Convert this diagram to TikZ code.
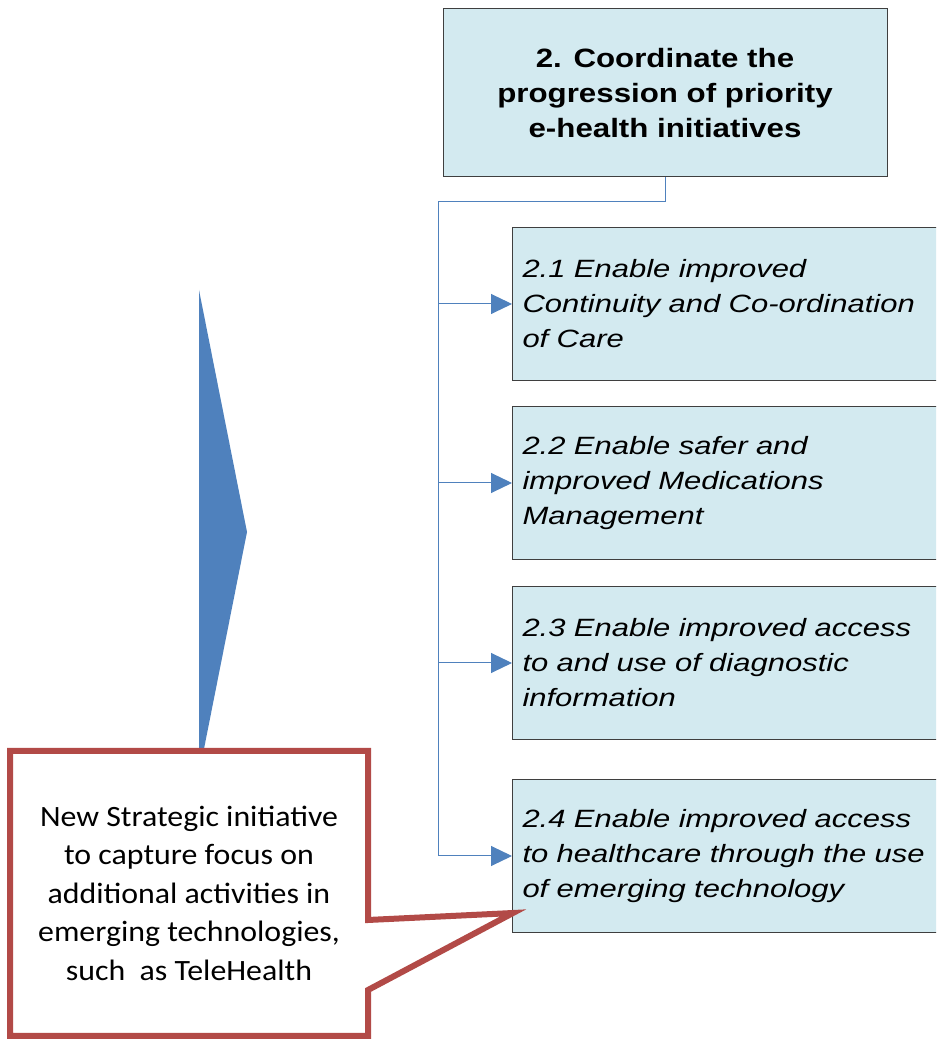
\documentclass[tikz,border=0pt]{standalone}
\usepackage{fontspec}
\setmainfont{Liberation Sans}
\newfontfamily\goalfont[FakeStretch=1.18]{Liberation Sans}
\newfontfamily\subfont[FakeStretch=1.24]{Liberation Sans}
\newfontfamily\notefont[FakeStretch=1.08]{Carlito}
\usetikzlibrary{arrows.meta,positioning,calc}
\definecolor{boxfill}{HTML}{D3EAF0}
\definecolor{boxline}{HTML}{3F3F3F}
\definecolor{linkblue}{HTML}{4F81BD}
\definecolor{notered}{HTML}{B24A47}

\begin{document}
\begin{tikzpicture}[x=1pt,y=1pt,
  goalbox/.style={draw=boxline,line width=1pt,fill=boxfill,minimum width=444pt,minimum height=168pt,align=center,
    font=\goalfont\fontsize{26.5}{35}\selectfont\bfseries},
  subbox/.style={draw=boxline,line width=1pt,fill=boxfill,minimum width=438pt,minimum height=153pt,
    text width=418pt,inner xsep=10pt,align=left,anchor=west,font=\subfont\fontsize{25}{35}\selectfont\itshape},
  link/.style={draw=linkblue,line width=1pt},
  linkarrow/.style={link,-{Triangle[length=21pt,width=20pt]}},
  note/.style={draw=notered,line width=6pt,line join=miter,fill=white},
  notetext/.style={align=center,font=\notefont\fontsize{29.5}{38.5}\selectfont}]
	\useasboundingbox (0,0) rectangle (936,1040);
	\clip (0,0) rectangle (936,1040);
	
	\node[goalbox] (g) at (665,947) {2. Coordinate the\\progression of priority\\e-health initiatives};
	\node[subbox] (s1) at (512,736) {2.1 Enable improved\\Continuity and Co-ordination\\of Care};
	\node[subbox] (s2) at (512,557) {2.2 Enable safer and\\improved Medications\\Management};
	\node[subbox] (s3) at (512,377) {2.3 Enable improved access\\to and use of diagnostic\\information};
	\node[subbox] (s4) at (512,184) {2.4 Enable improved access\\to healthcare through the use\\of emerging technology};
	
	% tree connector
	\coordinate (t) at (438,838);
	\draw[link] (g.south) |- (t) -- (t |- s4.west);
	\draw[linkarrow] (t |- s1.west) -- (s1.west);
	\draw[linkarrow] (t |- s2.west) -- (s2.west);
	\draw[linkarrow] (t |- s3.west) -- (s3.west);
	\draw[linkarrow] (t |- s4.west) -- (s4.west);
	
	% big arrow
	\fill[linkblue] (199,750) -- (247,508) -- (199,266) -- cycle;
	
	% callout
	\coordinate (tip) at ($(s4.south west)+(1,20)$);
	\draw[note] (10,289) -- (368,289) -- (368,120) -- (tip) -- (368,50) -- (368,4) -- (10,4) -- cycle;
	\node[notetext] (n) at (189,147) {New Strategic initiative\\to capture focus on\\additional activities in\\emerging technologies,\\such\ \ as TeleHealth};
\end{tikzpicture}
\end{document}
